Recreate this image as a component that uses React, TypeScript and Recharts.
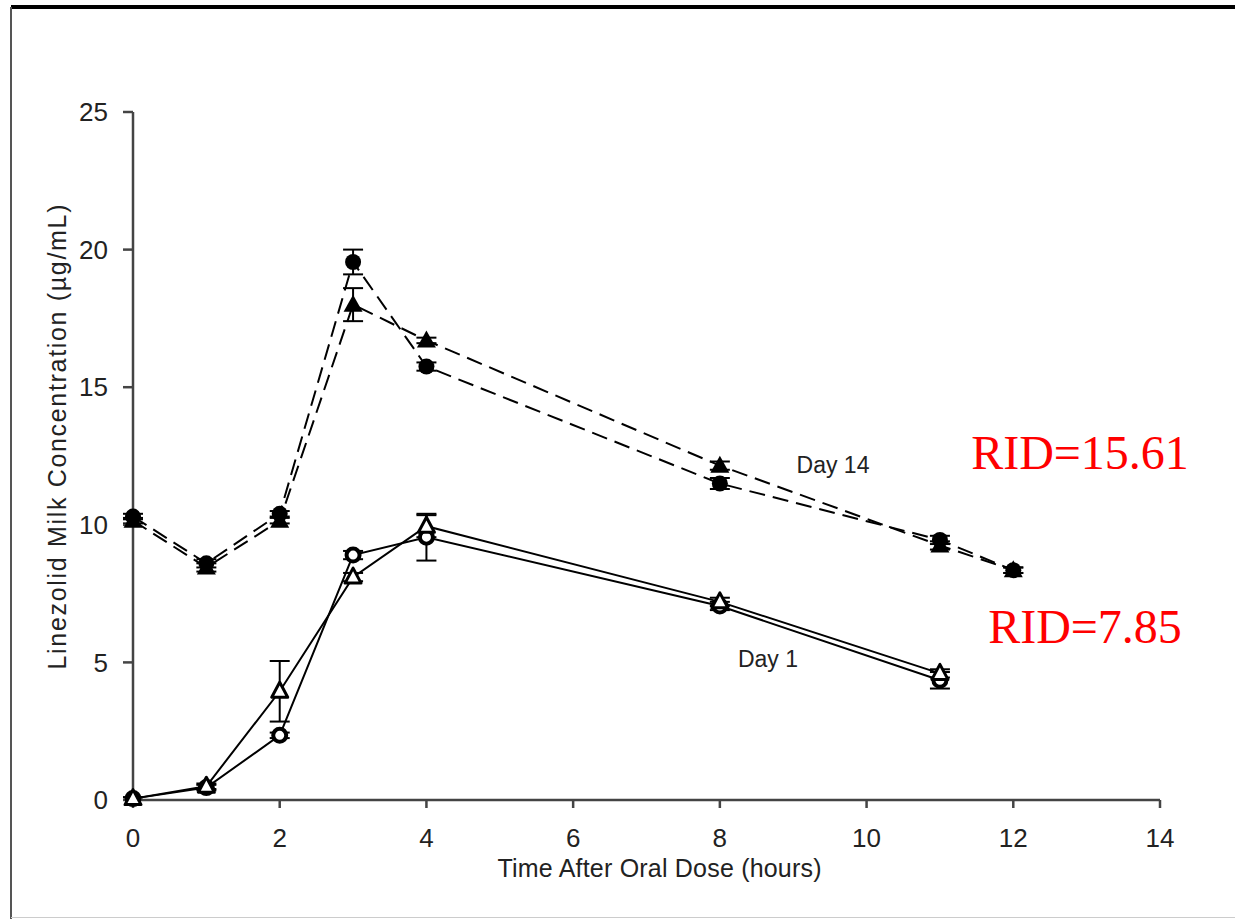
import { LineChart, Line, XAxis, YAxis, ErrorBar } from 'recharts'

// hours after the oral dose
const hoursDay14 = [0, 1, 2, 3, 4, 8, 11, 12]
const hoursDay1 = [0, 1, 2, 3, 4, 8, 11]

// linezolid milk concentration (µg/mL), mean and error
const day14Circle = [10.3, 8.6, 10.4, 19.55, 15.75, 11.5, 9.45, 8.35]
const day14CircleErr = [0.1, 0.15, 0.1, 0.45, 0.15, 0.2, 0.15, 0.1]
const day14Triangle = [10.15, 8.45, 10.15, 18.0, 16.7, 12.15, 9.25, 8.35]
const day14TriangleErr = [0.1, 0.15, 0.1, 0.6, 0.1, 0.15, 0.15, 0.1]
const day1Circle = [0.05, 0.45, 2.35, 8.9, 9.55, 7.05, 4.35]
const day1CircleErr = [0.05, 0.1, 0.1, 0.15, 0.85, 0.15, 0.3]
const day1Triangle = [0.05, 0.5, 3.95, 8.1, 9.95, 7.2, 4.6]
const day1TriangleErr = [0.05, 0.1, 1.1, 0.15, 0.4, 0.15, 0.15]

const xTicks = [0, 2, 4, 6, 8, 10, 12, 14]
const yTicks = [0, 5, 10, 15, 20, 25]

const FONT = '"Liberation Sans", Arial, sans-serif'
const AXIS = '#444'

const toPoints = (hours: number[], values: number[], err: number[]) =>
  hours.map((t, i) => ({ t, v: values[i], err: err[i] }))

const FilledCircle = (p: any) =>
  p.cx == null ? null : <circle key={p.key} cx={p.cx} cy={p.cy} r={8} fill="#000" />

const FilledTriangle = (p: any) =>
  p.cx == null ? null : (
    <polygon
      key={p.key}
      points={`${p.cx},${p.cy - 10} ${p.cx - 9.5},${p.cy + 7} ${p.cx + 9.5},${p.cy + 7}`}
      fill="#000"
    />
  )

const OpenCircle = (p: any) =>
  p.cx == null ? null : (
    <circle key={p.key} cx={p.cx} cy={p.cy} r={6.5} fill="#fff" stroke="#000" strokeWidth={4} />
  )

const OpenTriangle = (p: any) =>
  p.cx == null ? null : (
    <polygon
      key={p.key}
      points={`${p.cx},${p.cy - 9} ${p.cx - 8},${p.cy + 6} ${p.cx + 8},${p.cy + 6}`}
      fill="#fff"
      stroke="#000"
      strokeWidth={3}
      strokeLinejoin="round"
    />
  )

const XTitle = ({ viewBox }: any) => (
  <text
    x={viewBox.x + viewBox.width / 2 + 13}
    y={877}
    textAnchor="middle"
    fontFamily={FONT}
    fontSize={25}
    fill="#222"
    textLength={324}
  >
    Time After Oral Dose (hours)
  </text>
)

const YTitle = ({ viewBox }: any) => {
  const cx = 66
  const cy = viewBox.y + viewBox.height / 2 - 19
  return (
    <text
      x={cx}
      y={cy}
      transform={`rotate(-90, ${cx}, ${cy})`}
      textAnchor="middle"
      fontFamily={FONT}
      fontSize={25}
      fill="#222"
      textLength={465}
    >
      Linezolid Milk Concentration (µg/mL)
    </text>
  )
}

export default function App() {
  const tick = { fontSize: 26, fill: '#222', fontFamily: FONT }
  return (
    <div style={{ position: 'absolute', left: 0, top: 0, width: 1235, height: 919, background: '#fff' }}>
      <div style={{ position: 'absolute', left: 11, top: 5, right: 0, height: 4, background: '#000' }} />
      <div style={{ position: 'absolute', left: 10, top: 7, bottom: 0, width: 2, background: '#555' }} />
      <div style={{ position: 'absolute', left: 11, right: 0, top: 917, height: 1, background: '#ccc' }} />
      <LineChart
        width={1235}
        height={919}
        margin={{ top: 112, right: 75, bottom: 29, left: 73 }}
        style={{ position: 'absolute', left: 0, top: 0 }}
      >
        <XAxis
          type="number"
          dataKey="t"
          domain={[0, 14]}
          ticks={xTicks}
          allowDuplicatedCategory={false}
          height={90}
          tick={tick}
          tickSize={8}
          tickMargin={21}
          axisLine={{ stroke: AXIS, strokeWidth: 2.5 }}
          tickLine={{ stroke: AXIS, strokeWidth: 2.5 }}
          label={<XTitle />}
        />
        <YAxis
          type="number"
          domain={[0, 25]}
          ticks={yTicks}
          width={60}
          tick={tick}
          tickSize={10}
          tickMargin={15}
          axisLine={{ stroke: AXIS, strokeWidth: 2.5 }}
          tickLine={{ stroke: AXIS, strokeWidth: 2.5 }}
          label={<YTitle />}
        />
        <Line
          data={toPoints(hoursDay14, day14Circle, day14CircleErr)}
          dataKey="v"
          type="linear"
          stroke="#000"
          strokeWidth={2}
          strokeDasharray="16 8"
          dot={FilledCircle}
          activeDot={false}
          isAnimationActive={false}
        >
          <ErrorBar dataKey="err" width={10} stroke="#000" strokeWidth={2} direction="y" />
        </Line>
        <Line
          data={toPoints(hoursDay14, day14Triangle, day14TriangleErr)}
          dataKey="v"
          type="linear"
          stroke="#000"
          strokeWidth={2}
          strokeDasharray="16 8"
          dot={FilledTriangle}
          activeDot={false}
          isAnimationActive={false}
        >
          <ErrorBar dataKey="err" width={10} stroke="#000" strokeWidth={2} direction="y" />
        </Line>
        <Line
          data={toPoints(hoursDay1, day1Circle, day1CircleErr)}
          dataKey="v"
          type="linear"
          stroke="#000"
          strokeWidth={2}
          dot={OpenCircle}
          activeDot={false}
          isAnimationActive={false}
        >
          <ErrorBar dataKey="err" width={10} stroke="#000" strokeWidth={2} direction="y" />
        </Line>
        <Line
          data={toPoints(hoursDay1, day1Triangle, day1TriangleErr)}
          dataKey="v"
          type="linear"
          stroke="#000"
          strokeWidth={2}
          dot={OpenTriangle}
          activeDot={false}
          isAnimationActive={false}
        >
          <ErrorBar dataKey="err" width={10} stroke="#000" strokeWidth={2} direction="y" />
        </Line>
        <text x={833} y={473} textAnchor="middle" fontFamily={FONT} fontSize={23} fill="#222">
          Day 14
        </text>
        <text x={768} y={667} textAnchor="middle" fontFamily={FONT} fontSize={23} fill="#222">
          Day 1
        </text>
        <text x={1080} y={469} textAnchor="middle" fontFamily='"Liberation Serif", serif' fontSize={48} fill="#ff0000">
          RID=15.61
        </text>
        <text x={1085} y={643} textAnchor="middle" fontFamily='"Liberation Serif", serif' fontSize={48} fill="#ff0000">
          RID=7.85
        </text>
      </LineChart>
    </div>
  )
}
